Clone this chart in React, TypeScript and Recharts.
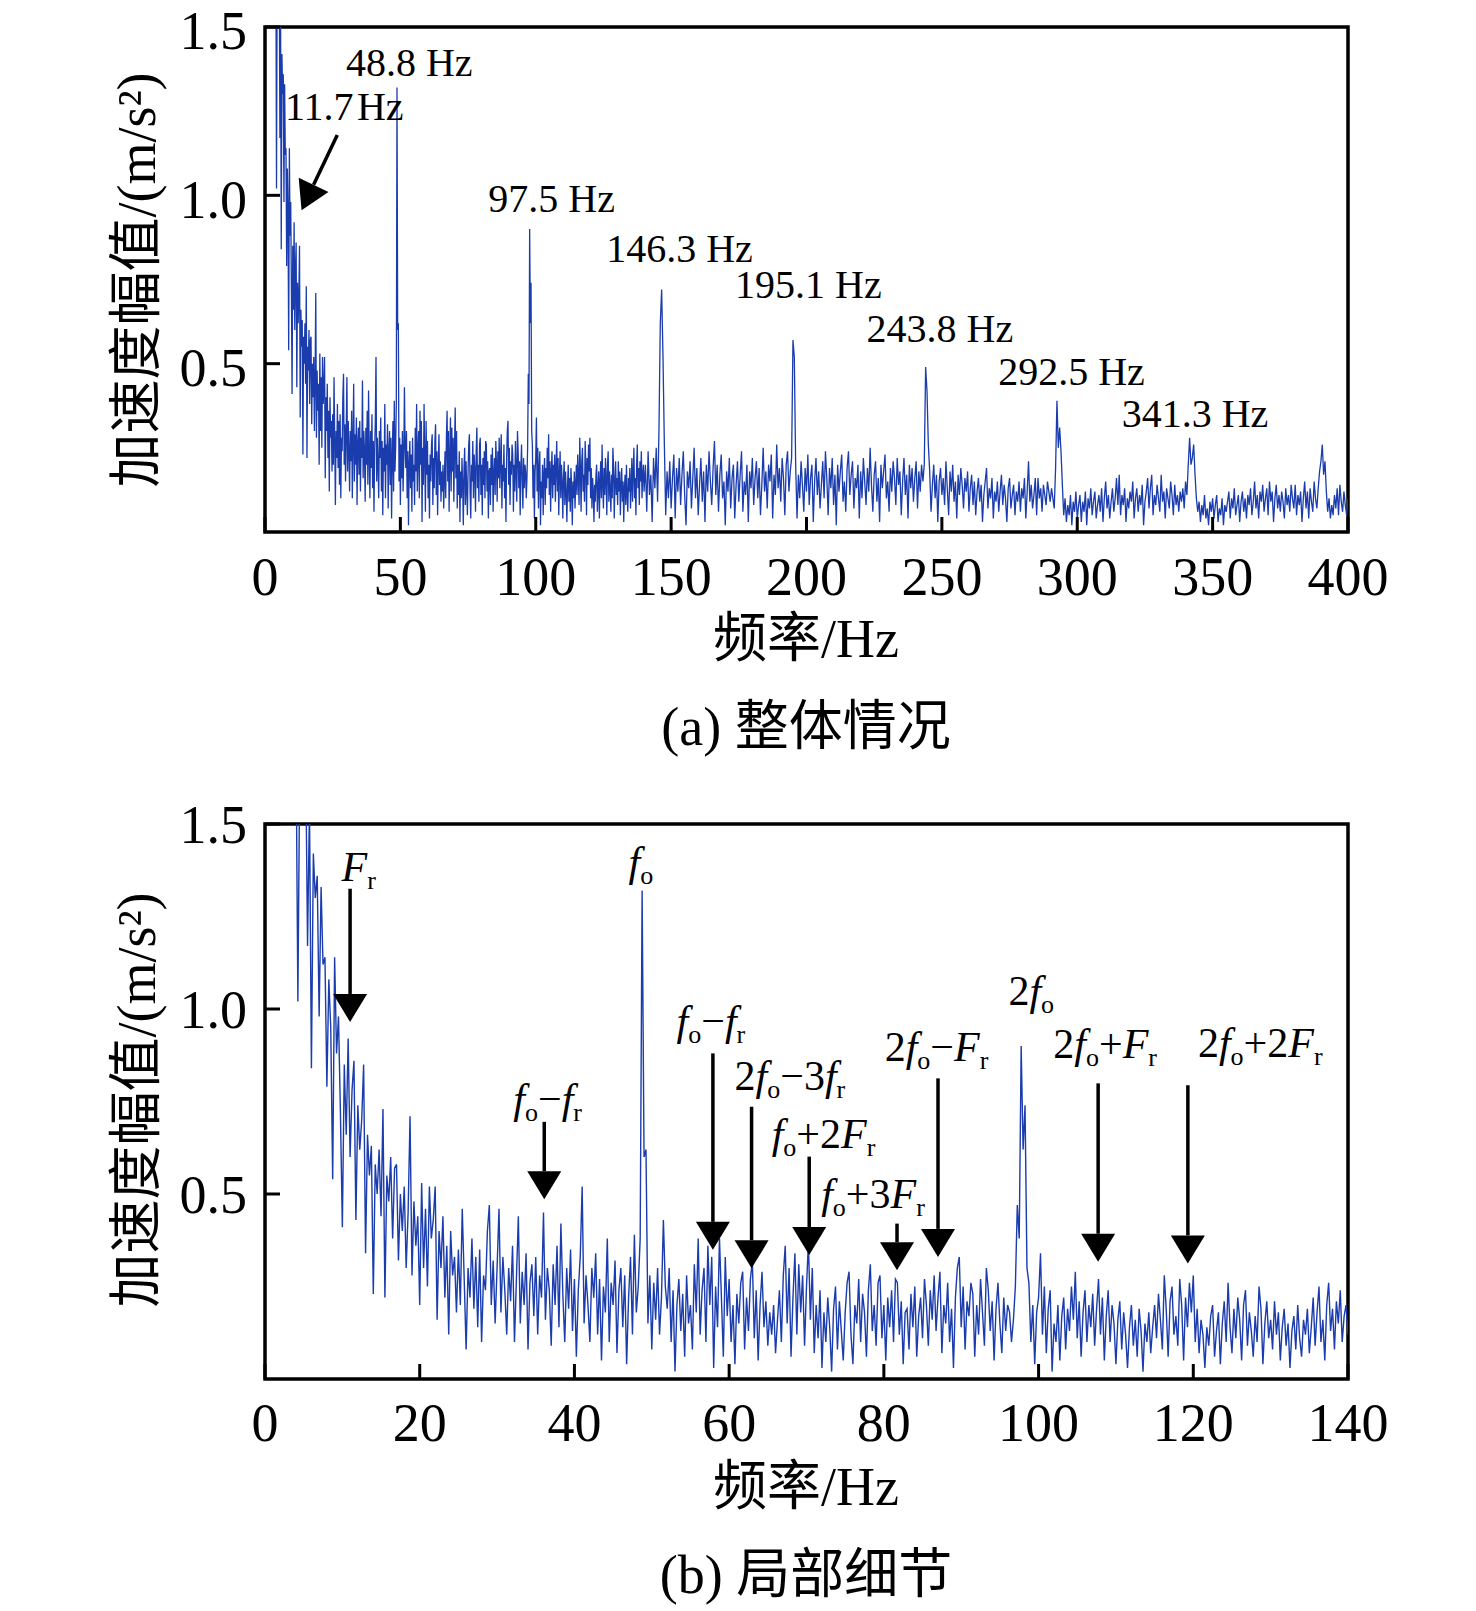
import React from 'react';
import { LineChart, Line, XAxis, YAxis, ReferenceArea, ReferenceLine, ReferenceDot } from 'recharts';

// ---------- data (amplitude in m/s^2) ----------
// 0 – 140 Hz, bin spacing LOW_STEP
const LOW_STEP = 0.25;
const lowBandAmp = [
  // 0 - 4.75
  3.2, 3.6, 3.9, 3.7, 3.4, 3.1, 2.9, 2.7, 2.6, 2.4, 2.3, 2.2, 2.1, 1.95, 1.9, 1.8, 1.75, 1.02, 1.68, 1.6,
  // 5 - 9.75
  1.62, 1.7, 1.17, 1.55, 0.84, 1.42, 1.3, 1.36, 0.98, 1.33, 1.12, 1.14, 0.79, 1.08, 0.95, 0.54, 1.14, 0.88, 0.98, 0.72,
  // 10 - 14.75
  0.41, 0.85, 0.66, 0.92, 0.6, 0.78, 0.86, 0.43, 0.74, 0.62, 0.7, 0.85, 0.34, 0.66, 0.55, 0.63, 0.23, 0.58, 0.5, 0.62,
  // 15 - 19.75
  0.44, 0.73, 0.22, 0.55, 0.48, 0.6, 0.38, 0.57, 0.58, 0.32, 0.5, 0.4, 0.52, 0.3, 0.45, 0.71, 0.28, 0.48, 0.36, 0.44,
  // 20 - 24.75
  0.2, 0.53, 0.3, 0.46, 0.25, 0.52, 0.38, 0.43, 0.52, 0.16, 0.4, 0.3, 0.44, 0.22, 0.36, 0.12, 0.4, 0.28, 0.33, 0.18,
  // 25 - 29.75
  0.35, 0.2, 0.46, 0.27, 0.08, 0.3, 0.22, 0.38, 0.19, 0.33, 0.14, 0.35, 0.1, 0.28, 0.24, 0.4, 0.47, 0.2, 0.32, 0.15,
  // 30 - 34.75
  0.3, 0.46, 0.18, 0.33, 0.24, 0.12, 0.3, 0.21, 0.36, 0.1, 0.27, 0.44, 0.15, 0.29, 0.2, 0.34, 0.08, 0.26, 0.31, 0.17,
  // 35 - 39.75
  0.33, 0.12, 0.28, 0.22, 0.45, 0.16, 0.3, 0.24, 0.09, 0.31, 0.2, 0.36, 0.14, 0.42, 0.23, 0.1, 0.3, 0.19, 0.35, 0.13,
  // 40 - 44.75
  0.27, 0.06, 0.24, 0.33, 0.52, 0.15, 0.28, 0.2, 0.1, 0.3, 0.22, 0.34, 0.12, 0.27, 0.05, 0.25, 0.18, 0.38, 0.1, 0.26,
  // 45 - 49.75
  0.2, 0.32, 0.07, 0.24, 0.3, 0.14, 0.28, 0.04, 0.22, 0.33, 0.12, 0.39, 0.18, 0.25, 0.38, 1.32, 0.6, 0.62, 0.15, 0.28,
  // 50 - 54.75
  0.08, 0.26, 0.16, 0.3, 0.12, 0.22, 0.43, 0.25, 0.19, 0.3, 0.1, 0.24, 0.02, 0.2, 0.27, 0.13, 0.23, 0.06, 0.28, 0.15,
  // 55 - 59.75
  0.2, 0.08, 0.31, 0.18, 0.38, 0.12, 0.24, 0.3, 0.1, 0.36, 0.2, 0.33, 0.03, 0.25, 0.14, 0.38, 0.22, 0.06, 0.33, 0.17,
  // 60 - 64.75
  0.27, 0.1, 0.2, 0.04, 0.23, 0.15, 0.26, 0.29, 0.08, 0.22, 0.13, 0.27, 0.32, 0.11, 0.24, 0.05, 0.2, 0.29, 0.14, 0.21,
  // 65 - 69.75
  0.09, 0.18, 0.12, 0.2, 0.07, 0.16, 0.24, 0.1, 0.28, 0.36, 0.15, 0.3, 0.06, 0.22, 0.34, 0.12, 0.31, 0.18, 0.28, 0.09,
  // 70 - 74.75
  0.25, 0.37, 0.16, 0.3, 0.07, 0.2, 0.11, 0.24, 0.03, 0.18, 0.1, 0.22, 0.14, 0.02, 0.19, 0.25, 0.08, 0.21, 0.13, 0.05,
  // 75 - 79.75
  0.18, 0.26, 0.29, 0.12, 0.04, 0.2, 0.15, 0.27, 0.1, 0.23, 0.18, 0.06, 0.24, 0.31, 0.13, 0.2, 0.09, 0.26, 0.28, 0.11,
  // 80 - 84.75
  0.2, 0.05, 0.22, 0.14, 0.24, 0.1, 0.27, 0.26, 0.12, 0.21, 0.04, 0.18, 0.19, 0.08, 0.23, 0.14, 0.25, 0.06, 0.17, 0.22,
  // 85 - 89.75
  0.11, 0.27, 0.2, 0.09, 0.24, 0.16, 0.28, 0.13, 0.22, 0.29, 0.07, 0.2, 0.15, 0.26, 0.1, 0.19, 0.03, 0.22, 0.3, 0.33,
  // 90 - 94.75
  0.14, 0.25, 0.08, 0.21, 0.17, 0.26, 0.23, 0.06, 0.2, 0.12, 0.27, 0.18, 0.09, 0.3, 0.24, 0.13, 0.21, 0.05, 0.19, 0.26,
  // 95 - 99.75
  0.15, 0.07, 0.22, 0.13, 0.2, 0.18, 0.1, 0.16, 0.25, 0.47, 0.38, 0.9, 0.62, 0.74, 0.3, 0.26, 0.1, 0.2, 0.04, 0.18,
  // 100 - 104.75
  0.22, 0.34, 0.12, 0.25, 0.07, 0.19, 0.24, 0.02, 0.15, 0.1, 0.2, 0.05, 0.17, 0.22, 0.08, 0.19, 0.13, 0.25, 0.16, 0.29,
  // 105 - 109.75
  0.11, 0.21, 0.06, 0.18, 0.24, 0.1, 0.2, 0.14, 0.23, 0.09, 0.19, 0.27, 0.12, 0.22, 0.05, 0.17, 0.24, 0.1, 0.2, 0.15,
  // 110 - 114.75
  0.04, 0.16, 0.21, 0.08, 0.18, 0.12, 0.03, 0.14, 0.2, 0.09, 0.16, 0.06, 0.19, 0.13, 0.02, 0.15, 0.1, 0.18, 0.07, 0.14,
  // 115 - 119.75
  0.2, 0.11, 0.23, 0.16, 0.08, 0.28, 0.19, 0.06, 0.21, 0.25, 0.12, 0.17, 0.09, 0.27, 0.2, 0.05, 0.22, 0.14, 0.26, 0.18,
  // 120 - 124.75
  0.28, 0.1, 0.19, 0.07, 0.16, 0.12, 0.03, 0.14, 0.09, 0.17, 0.2, 0.06, 0.13, 0.18, 0.04, 0.15, 0.21, 0.1, 0.26, 0.14,
  // 125 - 129.75
  0.07, 0.19, 0.11, 0.22, 0.16, 0.05, 0.2, 0.24, 0.09, 0.18, 0.13, 0.06, 0.17, 0.1, 0.25, 0.19, 0.04, 0.15, 0.21, 0.11,
  // 130 - 134.75
  0.16, 0.08, 0.21, 0.12, 0.18, 0.05, 0.14, 0.19, 0.09, 0.15, 0.03, 0.13, 0.17, 0.08, 0.2, 0.11, 0.06, 0.16, 0.12, 0.19,
  // 135 - 139.75
  0.07, 0.14, 0.22, 0.09, 0.18, 0.25, 0.1, 0.16, 0.05, 0.2, 0.26, 0.13, 0.19, 0.08, 0.21, 0.15, 0.24, 0.1, 0.17, 0.2,
  // 140
  0.12,
];

// 140.5 – 400 Hz, bin spacing HIGH_STEP
const HIGH_START = 140.5;
const HIGH_STEP = 0.5;
const highBandAmp = [
  0.2, 0.06, 0.24, 0.11, 0.17, 0.03, 0.22, 0.13, 0.25, 0.09,
  0.3, 0.62, 0.72, 0.52, 0.26, 0.05, 0.18, 0.1, 0.21, 0.07,
  0.16, 0.23, 0.04, 0.19, 0.12, 0.22, 0.08, 0.17, 0.24, 0.11,
  0.02, 0.18, 0.13, 0.21, 0.07, 0.16, 0.25, 0.1, 0.19, 0.05,
  0.14, 0.22, 0.09, 0.18, 0.03, 0.2, 0.12, 0.24, 0.15, 0.08,
  0.19, 0.27, 0.11, 0.2, 0.06, 0.17, 0.23, 0.1, 0.15, 0.02,
  0.18, 0.12, 0.22, 0.07, 0.16, 0.2, 0.04, 0.14, 0.21, 0.09,
  0.17, 0.24, 0.06, 0.15, 0.11, 0.2, 0.03, 0.18, 0.13, 0.22,
  0.08, 0.16, 0.21, 0.1, 0.19, 0.05, 0.14, 0.25, 0.12, 0.18,
  0.07, 0.2, 0.15, 0.23, 0.04, 0.17, 0.11, 0.26, 0.13, 0.19,
  0.09, 0.22, 0.16, 0.05, 0.2, 0.24, 0.12, 0.18, 0.22, 0.57,
  0.52, 0.2, 0.04, 0.17, 0.1, 0.21, 0.14, 0.06, 0.19, 0.12,
  0.23, 0.08, 0.16, 0.2, 0.03, 0.15, 0.22, 0.11, 0.18, 0.07,
  0.14, 0.21, 0.1, 0.24, 0.16, 0.05, 0.19, 0.13, 0.22, 0.08,
  0.17, 0.02, 0.2, 0.12, 0.18, 0.23, 0.09, 0.15, 0.06, 0.19,
  0.24, 0.11, 0.17, 0.21, 0.07, 0.16, 0.13, 0.2, 0.04, 0.18,
  0.1, 0.22, 0.15, 0.08, 0.19, 0.12, 0.25, 0.14, 0.06, 0.17,
  0.21, 0.09, 0.16, 0.03, 0.2, 0.13, 0.18, 0.23, 0.1, 0.15,
  0.06, 0.19, 0.12, 0.21, 0.16, 0.08, 0.22, 0.14, 0.18, 0.05,
  0.15, 0.22, 0.11, 0.17, 0.04, 0.2, 0.13, 0.19, 0.09, 0.16,
  0.21, 0.07, 0.18, 0.12, 0.2, 0.15, 0.2, 0.49, 0.42, 0.26,
  0.18, 0.06, 0.14, 0.2, 0.1, 0.17, 0.03, 0.15, 0.19, 0.11,
  0.16, 0.08, 0.21, 0.13, 0.05, 0.18, 0.12, 0.2, 0.09, 0.15,
  0.04, 0.17, 0.11, 0.19, 0.14, 0.07, 0.16, 0.12, 0.18, 0.06,
  0.13, 0.17, 0.08, 0.15, 0.05, 0.12, 0.16, 0.09, 0.14, 0.03,
  0.11, 0.15, 0.19, 0.07, 0.13, 0.1, 0.16, 0.04, 0.12, 0.09,
  0.15, 0.06, 0.12, 0.17, 0.08, 0.14, 0.1, 0.03, 0.13, 0.16,
  0.07, 0.11, 0.14, 0.05, 0.12, 0.09, 0.15, 0.06, 0.13, 0.1,
  0.16, 0.04, 0.12, 0.21, 0.09, 0.14, 0.07, 0.11, 0.16, 0.05,
  0.16, 0.1, 0.13, 0.06, 0.14, 0.11, 0.08, 0.15, 0.12, 0.09,
  0.13, 0.1, 0.07, 0.19, 0.39, 0.25, 0.31, 0.24, 0.14, 0.05,
  0.1, 0.03, 0.08, 0.05, 0.11, 0.02, 0.09, 0.06, 0.12, 0.04,
  0.08, 0.11, 0.03, 0.09, 0.06, 0.12, 0.02, 0.1, 0.07, 0.13,
  0.05, 0.09, 0.12, 0.04, 0.08, 0.11, 0.06, 0.13, 0.03, 0.1,
  0.15, 0.07, 0.11, 0.04, 0.09, 0.13, 0.06, 0.1, 0.16, 0.08,
  0.17, 0.05, 0.11, 0.08, 0.13, 0.03, 0.1, 0.07, 0.12, 0.09,
  0.15, 0.04, 0.1, 0.13, 0.06, 0.11, 0.08, 0.14, 0.02, 0.09,
  0.12, 0.16, 0.07, 0.13, 0.17, 0.05, 0.11, 0.08, 0.14, 0.1,
  0.06, 0.17, 0.09, 0.12, 0.04, 0.13, 0.1, 0.07, 0.15, 0.11,
  0.05, 0.14, 0.08, 0.11, 0.06, 0.12, 0.09, 0.13, 0.07, 0.15,
  0.11, 0.2, 0.28, 0.2, 0.22, 0.26, 0.17, 0.1, 0.06, 0.09,
  0.03, 0.08, 0.05, 0.11, 0.04, 0.07, 0.02, 0.09, 0.06, 0.1,
  0.04, 0.08, 0.11, 0.03, 0.07, 0.05, 0.1, 0.02, 0.08, 0.06,
  0.09, 0.12, 0.04, 0.1, 0.07, 0.13, 0.05, 0.08, 0.11, 0.03,
  0.09, 0.12, 0.06, 0.1, 0.04, 0.11, 0.08, 0.13, 0.05, 0.09,
  0.15, 0.07, 0.11, 0.04, 0.12, 0.09, 0.14, 0.06, 0.1, 0.13,
  0.05, 0.15, 0.09, 0.12, 0.03, 0.1, 0.14, 0.07, 0.11, 0.06,
  0.12, 0.09, 0.04, 0.13, 0.08, 0.11, 0.06, 0.14, 0.1, 0.07,
  0.14, 0.05, 0.11, 0.08, 0.12, 0.03, 0.1, 0.15, 0.07, 0.12,
  0.04, 0.13, 0.09, 0.06, 0.15, 0.1, 0.07, 0.13, 0.18, 0.21,
  0.26, 0.17, 0.21, 0.12, 0.06, 0.1, 0.04, 0.08, 0.05, 0.11,
  0.07, 0.13, 0.05, 0.14, 0.09, 0.06, 0.12, 0.08, 0.05, 0.1,
];

const overviewTicks = [0, 50, 100, 150, 200, 250, 300, 350, 400];
const detailTicks = [0, 20, 40, 60, 80, 100, 120, 140];
const amplitudeTicks = [0.5, 1.0, 1.5];

// annotation anchors, in data units (Hz, m/s^2)
const overviewPeakLabels = [
  { text: '11.7\u200AHz', f: 7.4, a: 1.225 },
  { text: '48.8 Hz', f: 29.9, a: 1.354 },
  { text: '97.5 Hz', f: 82.5, a: 0.951 },
  { text: '146.3 Hz', f: 126.0, a: 0.803 },
  { text: '195.1 Hz', f: 173.6, a: 0.694 },
  { text: '243.8 Hz', f: 222.2, a: 0.563 },
  { text: '292.5 Hz', f: 270.8, a: 0.437 },
  { text: '341.3 Hz', f: 316.4, a: 0.313 },
];
const overviewArrow = { f1: 26.7, a1: 1.179, f2: 13.5, a2: 0.956 };

type Part = [string, '' | 'i' | 's'];
const detailLabels: { parts: Part[]; f: number; a: number }[] = [
  { parts: [['F', 'i'], ['r', 's']], f: 9.9, a: 1.345 },
  { parts: [['f', 'i'], ['o', 's']], f: 47.0, a: 1.36 },
  { parts: [['f', 'i'], ['o', 's'], ['\u2212', ''], ['f', 'i'], ['r', 's']], f: 32.1, a: 0.72 },
  { parts: [['f', 'i'], ['o', 's'], ['\u2212', ''], ['f', 'i'], ['r', 's']], f: 53.2, a: 0.93 },
  { parts: [['2', ''], ['f', 'i'], ['o', 's'], ['\u22123', ''], ['f', 'i'], ['r', 's']], f: 60.7, a: 0.78 },
  { parts: [['f', 'i'], ['o', 's'], ['+2', ''], ['F', 'i'], ['r', 's']], f: 65.5, a: 0.623 },
  { parts: [['f', 'i'], ['o', 's'], ['+3', ''], ['F', 'i'], ['r', 's']], f: 71.9, a: 0.461 },
  { parts: [['2', ''], ['f', 'i'], ['o', 's'], ['\u2212', ''], ['F', 'i'], ['r', 's']], f: 80.1, a: 0.86 },
  { parts: [['2', ''], ['f', 'i'], ['o', 's']], f: 96.1, a: 1.011 },
  { parts: [['2', ''], ['f', 'i'], ['o', 's'], ['+', ''], ['F', 'i'], ['r', 's']], f: 101.9, a: 0.867 },
  { parts: [['2', ''], ['f', 'i'], ['o', 's'], ['+2', ''], ['F', 'i'], ['r', 's']], f: 120.6, a: 0.871 },
];
const detailArrows = [
  { f: 11.0, from: 1.325, to: 0.965 },
  { f: 36.1, from: 0.695, to: 0.486 },
  { f: 57.9, from: 0.88, to: 0.349 },
  { f: 62.9, from: 0.736, to: 0.299 },
  { f: 70.35, from: 0.601, to: 0.335 },
  { f: 81.7, from: 0.42, to: 0.294 },
  { f: 87.0, from: 0.8125, to: 0.33 },
  { f: 107.7, from: 0.799, to: 0.317 },
  { f: 119.3, from: 0.794, to: 0.3125 },
];

// ---------- tables built from the arrays ----------
const detailData = lowBandAmp.map((a, i) => ({ f: i * LOW_STEP, a }));
const overviewData = [
  ...detailData,
  ...highBandAmp.map((a, i) => ({ f: HIGH_START + i * HIGH_STEP, a })),
];

// ---------- styling ----------
const FONT = "'Liberation Serif', 'Times New Roman', 'Noto Sans CJK SC', serif";
const LINE_COLOR = '#1a3cad';
const TICK_STYLE = { fontSize: 54, fill: '#000', fontFamily: FONT };
const TOP_Y_TICK_STYLE = { ...TICK_STYLE, dy: 3 };

const arrowShape = (headLen: number, headHalf: number) => (p: any) => {
  const { x1, y1, x2, y2 } = p;
  const dx = x2 - x1;
  const dy = y2 - y1;
  const len = Math.hypot(dx, dy) || 1;
  const ux = dx / len;
  const uy = dy / len;
  const bx = x2 - ux * headLen;
  const by = y2 - uy * headLen;
  const nx = -uy;
  const ny = ux;
  return (
    <g>
      <line x1={x1} y1={y1} x2={bx} y2={by} stroke="#000" strokeWidth={3.5} />
      <polygon
        points={`${x2},${y2} ${bx + nx * headHalf},${by + ny * headHalf} ${bx - nx * headHalf},${by - ny * headHalf}`}
        fill="#000"
      />
    </g>
  );
};

const plainLabel = (text: string, size: number) => (p: any) => (
  <text x={p.cx} y={p.cy} fontFamily={FONT} fontSize={size} fill="#000" textAnchor="start">
    {text}
  </text>
);

const mathLabel = (parts: Part[], size: number, subSize: number, shift: number) => (p: any) => {
  let low = false;
  return (
    <text x={p.cx} y={p.cy} fontFamily={FONT} fontSize={size} fill="#000" textAnchor="start">
      {parts.map(([t, k], i) => {
        let dy: number | undefined;
        if (k === 's' && !low) {
          dy = shift;
          low = true;
        } else if (k !== 's' && low) {
          dy = -shift;
          low = false;
        }
        return (
          <tspan
            key={i}
            dy={dy}
            fontStyle={k === 'i' ? 'italic' : 'normal'}
            fontSize={k === 's' ? subSize : size}
          >
            {t}
          </tspan>
        );
      })}
    </text>
  );
};

function Title({ text, cx, cy, rotate }: { text: React.ReactNode; cx: number; cy: number; rotate?: boolean }) {
  return (
    <div
      style={{
        position: 'absolute',
        left: cx,
        top: cy,
        transform: `translate(-50%, -50%)${rotate ? ' rotate(-90deg)' : ''}`,
        fontSize: 54,
        lineHeight: 1,
        whiteSpace: 'nowrap',
        color: '#000',
        fontFamily: FONT,
      }}
    >
      {text}
    </div>
  );
}

const fmt = (v: number) => v.toFixed(1);

export default function App() {
  return (
    <div style={{ position: 'absolute', left: 0, top: 0, width: 1476, height: 1611, background: '#fff', fontFamily: FONT }}>
      {/* (a) overview */}
      <div style={{ position: 'absolute', left: 0, top: 0 }}>
        <LineChart width={1476} height={640} data={overviewData} margin={{ top: 27, right: 128, bottom: 78, left: 205 }}>
          <XAxis
            type="number"
            dataKey="f"
            domain={[0, 400]}
            ticks={overviewTicks}
            interval={0}
            allowDataOverflow
            height={30}
            axisLine={false}
            tickLine={{ stroke: '#000', strokeWidth: 3 }}
            tickSize={-15}
            tickMargin={40}
            tick={TICK_STYLE}
          />
          <YAxis
            type="number"
            domain={[0, 1.5]}
            ticks={amplitudeTicks}
            interval={0}
            allowDataOverflow
            width={60}
            axisLine={false}
            tickLine={{ stroke: '#000', strokeWidth: 3 }}
            tickSize={-15}
            tickMargin={33}
            tick={TOP_Y_TICK_STYLE}
            tickFormatter={fmt}
          />
          <Line
            type="linear"
            dataKey="a"
            stroke={LINE_COLOR}
            strokeWidth={1.3}
            dot={false}
            isAnimationActive={false}
          />
          <ReferenceArea x1={0} x2={400} y1={0} y2={1.5} fill="none" stroke="#000" strokeWidth={3.5} ifOverflow="visible" />
          {overviewPeakLabels.map((l, i) => (
            <ReferenceDot key={i} x={l.f} y={l.a} r={1} ifOverflow="visible" shape={plainLabel(l.text, 40)} />
          ))}
          <ReferenceLine
            segment={[
              { x: overviewArrow.f1, y: overviewArrow.a1 },
              { x: overviewArrow.f2, y: overviewArrow.a2 },
            ]}
            ifOverflow="visible"
            shape={arrowShape(28, 16.5)}
          />
        </LineChart>
      </div>

      {/* (b) detail */}
      <div style={{ position: 'absolute', left: 0, top: 770 }}>
        <LineChart width={1476} height={760} data={detailData} margin={{ top: 54, right: 128, bottom: 121, left: 205 }}>
          <XAxis
            type="number"
            dataKey="f"
            domain={[0, 140]}
            ticks={detailTicks}
            interval={0}
            allowDataOverflow
            height={30}
            axisLine={false}
            tickLine={{ stroke: '#000', strokeWidth: 3 }}
            tickSize={-15}
            tickMargin={39}
            tick={TICK_STYLE}
          />
          <YAxis
            type="number"
            domain={[0, 1.5]}
            ticks={amplitudeTicks}
            interval={0}
            allowDataOverflow
            width={60}
            axisLine={false}
            tickLine={{ stroke: '#000', strokeWidth: 3 }}
            tickSize={-15}
            tickMargin={33}
            tick={TICK_STYLE}
            tickFormatter={fmt}
          />
          <Line
            type="linear"
            dataKey="a"
            stroke={LINE_COLOR}
            strokeWidth={1.4}
            dot={false}
            isAnimationActive={false}
          />
          <ReferenceArea x1={0} x2={140} y1={0} y2={1.5} fill="none" stroke="#000" strokeWidth={3.5} ifOverflow="visible" />
          {detailArrows.map((ar, i) => (
            <ReferenceLine
              key={`ar${i}`}
              segment={[
                { x: ar.f, y: ar.from },
                { x: ar.f, y: ar.to },
              ]}
              ifOverflow="visible"
              shape={arrowShape(28, 17)}
            />
          ))}
          {detailLabels.map((l, i) => (
            <ReferenceDot key={`lb${i}`} x={l.f} y={l.a} r={1} ifOverflow="visible" shape={mathLabel(l.parts, 42, 26, 8)} />
          ))}
        </LineChart>
      </div>

      {/* axis titles and captions */}
      <Title text="加速度幅值/(m/s²)" cx={137} cy={280} rotate />
      <Title text="频率/Hz" cx={806} cy={639} />
      <Title text="(a) 整体情况" cx={806} cy={727} />
      <Title text="加速度幅值/(m/s²)" cx={137} cy={1100} rotate />
      <Title text="频率/Hz" cx={806} cy={1487} />
      <Title text="(b) 局部细节" cx={806} cy={1575} />
    </div>
  );
}
